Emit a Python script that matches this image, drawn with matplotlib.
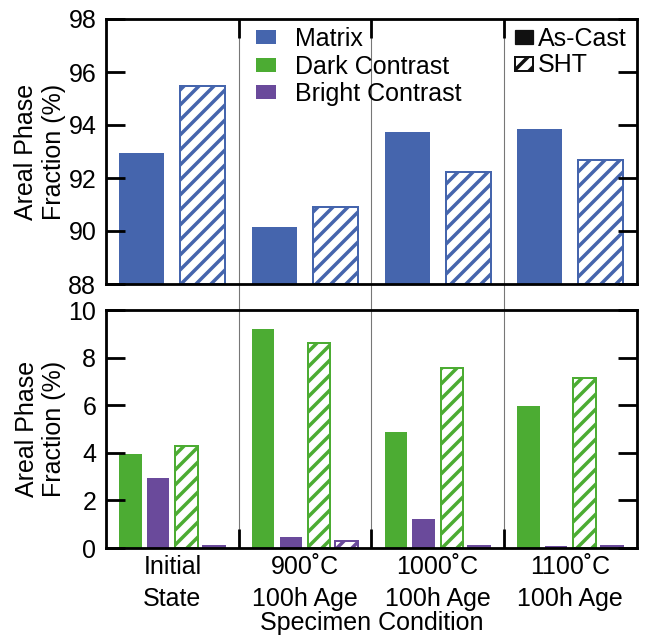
import matplotlib
matplotlib.use("Agg")
import matplotlib.pyplot as plt
from matplotlib.patches import Patch
import numpy as np

DPI = 90


def pt(px):
    """convert a size in output pixels to points at the figure dpi"""
    return px * 72.0 / DPI


plt.rcParams['font.family'] = ['Liberation Sans', 'DejaVu Sans']
plt.rcParams['hatch.linewidth'] = pt(3.5)

# ---------------- data ----------------
conditions = ["Initial\nState", "900˚C\n100h Age", "1000˚C\n100h Age", "1100˚C\n100h Age"]
matrix_ascast = [92.95, 90.15, 93.75, 93.85]
matrix_sht = [95.48, 90.90, 92.22, 92.67]
dark_ascast = [3.95, 9.20, 4.86, 5.98]
dark_sht = [4.30, 8.60, 7.55, 7.14]
bright_ascast = [2.95, 0.45, 1.23, 0.10]
bright_sht = [0.08, 0.29, 0.08, 0.08]
phase_names = ["Matrix", "Dark Contrast", "Bright Contrast"]
state_names = ["As-Cast", "SHT"]
top_yticks = [88, 90, 92, 94, 96, 98]
bot_yticks = [0, 2, 4, 6, 8, 10]

blue = '#4565AD'
green = '#4CAC33'
purple = '#6A4A9B'

W, H = 649, 636
fig = plt.figure(figsize=(W / DPI, H / DPI), dpi=DPI)


def fx(p):
    return p / W


def fy(p):
    return 1 - p / H


left, right = 106, 636.7
ax_top = fig.add_axes([fx(left), fy(284), fx(right - left), fy(19) - fy(284)])
ax_bot = fig.add_axes([fx(left), fy(548), fx(right - left), fy(310) - fy(548)])

g = np.arange(len(conditions))
FS = pt(25)
SPW = pt(2.8)
TL = pt(19.4)
EDGE = pt(2.0)

# top panel: matrix
wt = 0.34
ax_top.bar(g + 0.27, np.array(matrix_ascast) - 88, bottom=88, width=wt,
           color=blue, edgecolor='none')
ax_top.bar(g + 0.73, np.array(matrix_sht) - 88, bottom=88, width=wt,
           facecolor='white', edgecolor=blue, hatch='//', linewidth=EDGE)

# bottom panel: dark & bright
wb = 0.168
ax_bot.bar(g + 0.185, dark_ascast, width=wb, color=green, edgecolor='none')
ax_bot.bar(g + 0.394, bright_ascast, width=wb, color=purple, edgecolor='none')
ax_bot.bar(g + 0.606, dark_sht, width=wb, facecolor='white', edgecolor=green,
           hatch='//', linewidth=EDGE)
ax_bot.bar(g + 0.813, bright_sht, width=wb, facecolor='white', edgecolor=purple,
           hatch='//', linewidth=EDGE)

for ax, yl, yt in [(ax_top, (88, 98), top_yticks), (ax_bot, (0, 10), bot_yticks)]:
    ax.set_xlim(0, len(conditions))
    ax.set_ylim(*yl)
    ax.set_yticks(yt)
    for s in ax.spines.values():
        s.set_linewidth(SPW)
    ax.tick_params(axis='y', direction='in', left=True, right=True, length=TL,
                   width=SPW, labelsize=FS, pad=pt(9.7))
    ax.set_ylabel("Areal Phase\nFraction (%)", fontsize=FS, labelpad=pt(2),
                  linespacing=1.2)

ax_top.set_xticks([1, 2, 3])
ax_top.tick_params(axis='x', direction='in', top=True, bottom=False, length=TL,
                   width=SPW, labelbottom=False, labeltop=False)

ax_bot.set_xticks([1, 2, 3])
ax_bot.set_xticks(g + 0.5, minor=True)
ax_bot.set_xticklabels(conditions, minor=True, fontsize=FS, linespacing=1.4)
ax_bot.tick_params(axis='x', which='major', direction='in', top=False,
                   bottom=True, length=TL, width=SPW, labelbottom=False)
ax_bot.tick_params(axis='x', which='minor', length=0, pad=pt(7))
ax_bot.set_xlabel("Specimen Condition", fontsize=FS, labelpad=0)

# group separators spanning both panels
gap_frac = (310 - 284) / (284 - 19)
for b in [1, 2, 3]:
    ax_top.axvline(b, ymin=-gap_frac - 0.01, ymax=1, color='#777777',
                   linewidth=pt(1.1), clip_on=False, zorder=0.5)
    ax_bot.axvline(b, ymin=0, ymax=1, color='#777777', linewidth=pt(1.1),
                   zorder=0.5)

# legends
h1 = [Patch(facecolor=c, edgecolor='none') for c in (blue, green, purple)]
leg1 = fig.legend(h1, phase_names, loc='upper left',
                  bbox_to_anchor=(fx(256), fy(27)), frameon=False, fontsize=FS,
                  handlelength=0.8, handleheight=0.5, handletextpad=0.76,
                  labelspacing=0.14, borderpad=0, borderaxespad=0)
h2 = [Patch(facecolor='#111111', edgecolor='#111111'),
      Patch(facecolor='white', edgecolor='#111111', hatch='//',
            linewidth=EDGE)]
leg2 = fig.legend(h2, state_names, loc='upper left',
                  bbox_to_anchor=(fx(515), fy(27)), frameon=False, fontsize=FS,
                  handlelength=0.72, handleheight=0.48, handletextpad=0.2,
                  labelspacing=0.1, borderpad=0, borderaxespad=0)

fig.savefig("out.png", dpi=DPI)
